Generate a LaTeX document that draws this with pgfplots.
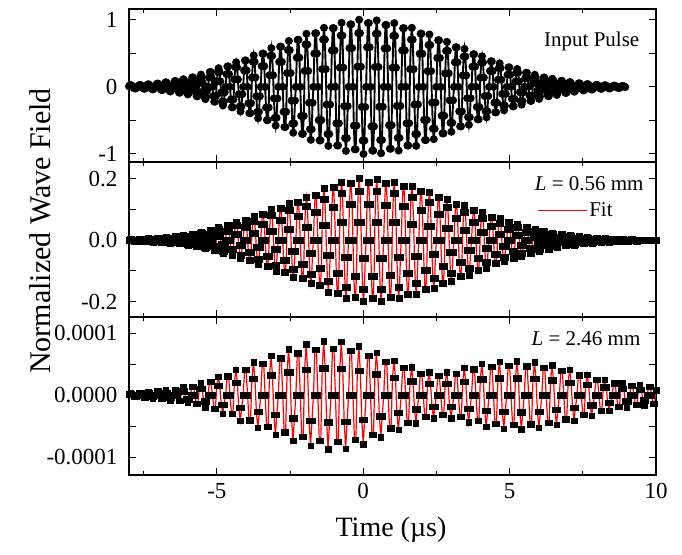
\documentclass[border=0pt]{standalone}
\usepackage{fontspec}
\setmainfont{Liberation Serif}
\usepackage{pgfplots}
\usepackage{pgfplotstable}
\pgfplotsset{compat=1.18}

% x = time (us); a = input pulse; b = L=0.56 mm
\pgfplotstableread{
x a b
-8.00 0.008 0.0009
-7.97 0.02 0.0024
-7.94 0.025 0.003
-7.91 0.02 0.0024
-7.88 0.008 0.0009
-7.85 -0.008 -0.0009
-7.82 -0.02 -0.0024
-7.79 -0.025 -0.003
-7.76 -0.02 -0.0024
-7.73 -0.008 -0.0009
-7.70 0 0
-7.67 0.017 0.0024
-7.64 0.028 0.0038
-7.61 0.028 0.0038
-7.58 0.017 0.0024
-7.55 0 0
-7.52 -0.017 -0.0024
-7.49 -0.028 -0.0038
-7.46 -0.028 -0.0038
-7.43 -0.017 -0.0024
-7.40 0.012 0.0015
-7.37 0.031 0.004
-7.34 0.039 0.005
-7.31 0.031 0.004
-7.28 0.012 0.0015
-7.25 -0.012 -0.0015
-7.22 -0.031 -0.004
-7.19 -0.039 -0.005
-7.16 -0.031 -0.004
-7.13 -0.012 -0.0015
-7.10 0 0
-7.07 0.03 0.0041
-7.04 0.048 0.0067
-7.01 0.048 0.0067
-6.98 0.03 0.0041
-6.95 0 0
-6.92 -0.03 -0.0041
-6.89 -0.048 -0.0067
-6.86 -0.048 -0.0067
-6.83 -0.03 -0.0041
-6.80 0.021 0.0027
-6.77 0.056 0.0072
-6.74 0.07 0.009
-6.71 0.056 0.0072
-6.68 0.021 0.0027
-6.65 -0.021 -0.0027
-6.62 -0.056 -0.0072
-6.59 -0.07 -0.009
-6.56 -0.056 -0.0072
-6.53 -0.021 -0.0027
-6.50 0 0
-6.47 0.053 0.0071
-6.44 0.086 0.0114
-6.41 0.086 0.0114
-6.38 0.053 0.0071
-6.35 0 0
-6.32 -0.053 -0.0071
-6.29 -0.086 -0.0114
-6.26 -0.086 -0.0114
-6.23 -0.053 -0.0071
-6.20 0.034 0.0048
-6.17 0.091 0.0128
-6.14 0.114 0.016
-6.11 0.091 0.0128
-6.08 0.034 0.0048
-6.05 -0.034 -0.0048
-6.02 -0.091 -0.0128
-5.99 -0.114 -0.016
-5.96 -0.091 -0.0128
-5.93 -0.034 -0.0048
-5.90 0 0
-5.87 0.087 0.0124
-5.84 0.14 0.02
-5.81 0.14 0.02
-5.78 0.087 0.0124
-5.75 0 0
-5.72 -0.087 -0.0124
-5.69 -0.14 -0.02
-5.66 -0.14 -0.02
-5.63 -0.087 -0.0124
-5.60 0.055 0.0081
-5.57 0.146 0.0216
-5.54 0.183 0.027
-5.51 0.146 0.0216
-5.48 0.055 0.0081
-5.45 -0.055 -0.0081
-5.42 -0.146 -0.0216
-5.39 -0.183 -0.027
-5.36 -0.146 -0.0216
-5.33 -0.055 -0.0081
-5.30 0 0
-5.27 0.137 0.0207
-5.24 0.22 0.0333
-5.21 0.22 0.0333
-5.18 0.137 0.0207
-5.15 0 0
-5.12 -0.137 -0.0207
-5.09 -0.22 -0.0333
-5.06 -0.22 -0.0333
-5.03 -0.137 -0.0207
-5.00 0.083 0.0129
-4.97 0.222 0.0344
-4.94 0.278 0.043
-4.91 0.222 0.0344
-4.88 0.083 0.0129
-4.85 -0.083 -0.0129
-4.82 -0.222 -0.0344
-4.79 -0.278 -0.043
-4.76 -0.222 -0.0344
-4.73 -0.083 -0.0129
-4.70 0 0
-4.67 0.189 0.0301
-4.64 0.304 0.0485
-4.61 0.304 0.0485
-4.58 0.189 0.0301
-4.55 0 0
-4.52 -0.189 -0.0301
-4.49 -0.304 -0.0485
-4.46 -0.304 -0.0485
-4.43 -0.189 -0.0301
-4.40 0.11 0.018
-4.37 0.293 0.048
-4.34 0.366 0.06
-4.31 0.293 0.048
-4.28 0.11 0.018
-4.25 -0.11 -0.018
-4.22 -0.293 -0.048
-4.19 -0.366 -0.06
-4.16 -0.293 -0.048
-4.13 -0.11 -0.018
-4.10 0 0
-4.07 0.244 0.0407
-4.04 0.393 0.0656
-4.01 0.393 0.0656
-3.98 0.244 0.0407
-3.95 0 0
-3.92 -0.244 -0.0407
-3.89 -0.393 -0.0656
-3.86 -0.393 -0.0656
-3.83 -0.244 -0.0407
-3.80 0.14 0.0237
-3.77 0.374 0.0632
-3.74 0.468 0.079
-3.71 0.374 0.0632
-3.68 0.14 0.0237
-3.65 -0.14 -0.0237
-3.62 -0.374 -0.0632
-3.59 -0.468 -0.079
-3.56 -0.374 -0.0632
-3.53 -0.14 -0.0237
-3.50 0 0
-3.47 0.308 0.0525
-3.44 0.496 0.0846
-3.41 0.496 0.0846
-3.38 0.308 0.0525
-3.35 0 0
-3.32 -0.308 -0.0525
-3.29 -0.496 -0.0846
-3.26 -0.496 -0.0846
-3.23 -0.308 -0.0525
-3.20 0.173 0.03
-3.17 0.462 0.08
-3.14 0.577 0.1
-3.11 0.462 0.08
-3.08 0.173 0.03
-3.05 -0.173 -0.03
-3.02 -0.462 -0.08
-2.99 -0.577 -0.1
-2.96 -0.462 -0.08
-2.93 -0.173 -0.03
-2.90 0 0
-2.87 0.372 0.0649
-2.84 0.599 0.1045
-2.81 0.599 0.1045
-2.78 0.372 0.0649
-2.75 0 0
-2.72 -0.372 -0.0649
-2.69 -0.599 -0.1045
-2.66 -0.599 -0.1045
-2.63 -0.372 -0.0649
-2.60 0.205 0.036
-2.57 0.547 0.096
-2.54 0.684 0.12
-2.51 0.547 0.096
-2.48 0.205 0.036
-2.45 -0.205 -0.036
-2.42 -0.547 -0.096
-2.39 -0.684 -0.12
-2.36 -0.547 -0.096
-2.33 -0.205 -0.036
-2.30 0 0
-2.27 0.435 0.0767
-2.24 0.701 0.1235
-2.21 0.701 0.1235
-2.18 0.435 0.0767
-2.15 0 0
-2.12 -0.435 -0.0767
-2.09 -0.701 -0.1235
-2.06 -0.701 -0.1235
-2.03 -0.435 -0.0767
-2.00 0.237 0.042
-1.97 0.632 0.112
-1.94 0.79 0.14
-1.91 0.632 0.112
-1.88 0.237 0.042
-1.85 -0.237 -0.042
-1.82 -0.632 -0.112
-1.79 -0.79 -0.14
-1.76 -0.632 -0.112
-1.73 -0.237 -0.042
-1.70 0 0
-1.67 0.496 0.0915
-1.64 0.798 0.147
-1.61 0.798 0.147
-1.58 0.496 0.0915
-1.55 0 0
-1.52 -0.496 -0.0915
-1.49 -0.798 -0.147
-1.46 -0.798 -0.147
-1.43 -0.496 -0.0915
-1.40 0.264 0.05
-1.37 0.704 0.134
-1.34 0.88 0.168
-1.31 0.704 0.134
-1.28 0.264 0.05
-1.25 -0.264 -0.05
-1.22 -0.704 -0.134
-1.19 -0.88 -0.168
-1.16 -0.704 -0.134
-1.13 -0.264 -0.05
-1.10 0 0
-1.07 0.543 0.106
-1.04 0.874 0.171
-1.01 0.874 0.171
-0.98 0.543 0.106
-0.95 0 0
-0.92 -0.543 -0.106
-0.89 -0.874 -0.171
-0.86 -0.874 -0.171
-0.83 -0.543 -0.106
-0.80 0.287 0.057
-0.77 0.764 0.152
-0.74 0.955 0.19
-0.71 0.764 0.152
-0.68 0.287 0.057
-0.65 -0.287 -0.057
-0.62 -0.764 -0.152
-0.59 -0.955 -0.19
-0.56 -0.764 -0.152
-0.53 -0.287 -0.057
-0.50 0 0
-0.47 0.578 0.116
-0.44 0.931 0.186
-0.41 0.931 0.186
-0.38 0.578 0.116
-0.35 0 0
-0.32 -0.578 -0.116
-0.29 -0.931 -0.186
-0.26 -0.931 -0.186
-0.23 -0.578 -0.116
-0.20 0.3 0.06
-0.17 0.8 0.16
-0.14 1 0.2
-0.11 0.8 0.16
-0.08 0.3 0.06
-0.05 -0.3 -0.06
-0.02 -0.8 -0.16
0.01 -1 -0.2
0.04 -0.8 -0.16
0.07 -0.3 -0.06
0.10 0 0
0.13 0.59 0.118
0.16 0.95 0.19
0.19 0.95 0.19
0.22 0.59 0.118
0.25 0 0
0.28 -0.59 -0.118
0.31 -0.95 -0.19
0.34 -0.95 -0.19
0.37 -0.59 -0.118
0.40 0.297 0.059
0.43 0.792 0.158
0.46 0.99 0.198
0.49 0.792 0.158
0.52 0.297 0.059
0.55 -0.297 -0.059
0.58 -0.792 -0.158
0.61 -0.99 -0.198
0.64 -0.792 -0.158
0.67 -0.297 -0.059
0.70 0 0
0.73 0.572 0.114
0.76 0.922 0.184
0.79 0.922 0.184
0.82 0.572 0.114
0.85 0 0
0.88 -0.572 -0.114
0.91 -0.922 -0.184
0.94 -0.922 -0.184
0.97 -0.572 -0.114
1.00 0.285 0.057
1.03 0.76 0.152
1.06 0.95 0.19
1.09 0.76 0.152
1.12 0.285 0.057
1.15 -0.285 -0.057
1.18 -0.76 -0.152
1.21 -0.95 -0.19
1.24 -0.76 -0.152
1.27 -0.285 -0.057
1.30 0 0
1.33 0.543 0.109
1.36 0.874 0.175
1.39 0.874 0.175
1.42 0.543 0.109
1.45 0 0
1.48 -0.543 -0.109
1.51 -0.874 -0.175
1.54 -0.874 -0.175
1.57 -0.543 -0.109
1.60 0.264 0.053
1.63 0.704 0.141
1.66 0.88 0.176
1.69 0.704 0.141
1.72 0.264 0.053
1.75 -0.264 -0.053
1.78 -0.704 -0.141
1.81 -0.88 -0.176
1.84 -0.704 -0.141
1.87 -0.264 -0.053
1.90 0 0
1.93 0.493 0.099
1.96 0.793 0.159
1.99 0.793 0.159
2.02 0.493 0.099
2.05 0 0
2.08 -0.493 -0.099
2.11 -0.793 -0.159
2.14 -0.793 -0.159
2.17 -0.493 -0.099
2.20 0.234 0.047
2.23 0.624 0.125
2.26 0.78 0.156
2.29 0.624 0.125
2.32 0.234 0.047
2.35 -0.234 -0.047
2.38 -0.624 -0.125
2.41 -0.78 -0.156
2.44 -0.624 -0.125
2.47 -0.234 -0.047
2.50 0 0
2.53 0.431 0.086
2.56 0.694 0.139
2.59 0.694 0.139
2.62 0.431 0.086
2.65 0 0
2.68 -0.431 -0.086
2.71 -0.694 -0.139
2.74 -0.694 -0.139
2.77 -0.431 -0.086
2.80 0.201 0.04
2.83 0.536 0.107
2.86 0.67 0.134
2.89 0.536 0.107
2.92 0.201 0.04
2.95 -0.201 -0.04
2.98 -0.536 -0.107
3.01 -0.67 -0.134
3.04 -0.536 -0.107
3.07 -0.201 -0.04
3.10 0 0
3.13 0.366 0.073
3.16 0.589 0.118
3.19 0.589 0.118
3.22 0.366 0.073
3.25 0 0
3.28 -0.366 -0.073
3.31 -0.589 -0.118
3.34 -0.589 -0.118
3.37 -0.366 -0.073
3.40 0.17 0.034
3.43 0.452 0.09
3.46 0.565 0.113
3.49 0.452 0.09
3.52 0.17 0.034
3.55 -0.17 -0.034
3.58 -0.452 -0.09
3.61 -0.565 -0.113
3.64 -0.452 -0.09
3.67 -0.17 -0.034
3.70 0 0
3.73 0.301 0.06
3.76 0.485 0.097
3.79 0.485 0.097
3.82 0.301 0.06
3.85 0 0
3.88 -0.301 -0.06
3.91 -0.485 -0.097
3.94 -0.485 -0.097
3.97 -0.301 -0.06
4.00 0.137 0.027
4.03 0.364 0.073
4.06 0.455 0.091
4.09 0.364 0.073
4.12 0.137 0.027
4.15 -0.137 -0.027
4.18 -0.364 -0.073
4.21 -0.455 -0.091
4.24 -0.364 -0.073
4.27 -0.137 -0.027
4.30 0 0
4.33 0.236 0.047
4.36 0.38 0.076
4.39 0.38 0.076
4.42 0.236 0.047
4.45 0 0
4.48 -0.236 -0.047
4.51 -0.38 -0.076
4.54 -0.38 -0.076
4.57 -0.236 -0.047
4.60 0.105 0.021
4.63 0.28 0.056
4.66 0.35 0.07
4.69 0.28 0.056
4.72 0.105 0.021
4.75 -0.105 -0.021
4.78 -0.28 -0.056
4.81 -0.35 -0.07
4.84 -0.28 -0.056
4.87 -0.105 -0.021
4.90 0 0
4.93 0.18 0.036
4.96 0.29 0.058
4.99 0.29 0.058
5.02 0.18 0.036
5.05 0 0
5.08 -0.18 -0.036
5.11 -0.29 -0.058
5.14 -0.29 -0.058
5.17 -0.18 -0.036
5.20 0.08 0.016
5.23 0.212 0.042
5.26 0.265 0.053
5.29 0.212 0.042
5.32 0.08 0.016
5.35 -0.08 -0.016
5.38 -0.212 -0.042
5.41 -0.265 -0.053
5.44 -0.212 -0.042
5.47 -0.08 -0.016
5.50 0 0
5.53 0.13 0.027
5.56 0.209 0.043
5.59 0.209 0.043
5.62 0.13 0.027
5.65 0 0
5.68 -0.13 -0.027
5.71 -0.209 -0.043
5.74 -0.209 -0.043
5.77 -0.13 -0.027
5.80 0.054 0.011
5.83 0.144 0.03
5.86 0.18 0.037
5.89 0.144 0.03
5.92 0.054 0.011
5.95 -0.054 -0.011
5.98 -0.144 -0.03
6.01 -0.18 -0.037
6.04 -0.144 -0.03
6.07 -0.054 -0.011
6.10 0 0
6.13 0.086 0.018
6.16 0.138 0.029
6.19 0.138 0.029
6.22 0.086 0.018
6.25 0 0
6.28 -0.086 -0.018
6.31 -0.138 -0.029
6.34 -0.138 -0.029
6.37 -0.086 -0.018
6.40 0.036 0.0072
6.43 0.096 0.019
6.46 0.12 0.024
6.49 0.096 0.019
6.52 0.036 0.0072
6.55 -0.036 -0.0072
6.58 -0.096 -0.019
6.61 -0.12 -0.024
6.64 -0.096 -0.019
6.67 -0.036 -0.0072
6.70 0 0
6.73 0.056 0.011
6.76 0.09 0.018
6.79 0.09 0.018
6.82 0.056 0.011
6.85 0 0
6.88 -0.056 -0.011
6.91 -0.09 -0.018
6.94 -0.09 -0.018
6.97 -0.056 -0.011
7.00 0.022 0.0045
7.03 0.058 0.012
7.06 0.073 0.015
7.09 0.058 0.012
7.12 0.022 0.0045
7.15 -0.022 -0.0045
7.18 -0.058 -0.012
7.21 -0.073 -0.015
7.24 -0.058 -0.012
7.27 -0.022 -0.0045
7.30 0 0
7.33 0.032 0.0071
7.36 0.052 0.0114
7.39 0.052 0.0114
7.42 0.032 0.0071
7.45 0 0
7.48 -0.032 -0.0071
7.51 -0.052 -0.0114
7.54 -0.052 -0.0114
7.57 -0.032 -0.0071
7.60 0.013 0.0027
7.63 0.034 0.0072
7.66 0.042 0.009
7.69 0.034 0.0072
7.72 0.013 0.0027
7.75 -0.013 -0.0027
7.78 -0.034 -0.0072
7.81 -0.042 -0.009
7.84 -0.034 -0.0072
7.87 -0.013 -0.0027
7.90 0 0
7.93 0.018 0.0041
7.96 0.029 0.0067
7.99 0.029 0.0067
8.02 0.018 0.0041
8.05 0 0
8.08 -0.018 -0.0041
8.11 -0.029 -0.0067
8.14 -0.029 -0.0067
8.17 -0.018 -0.0041
8.20 0.007 0.0015
8.23 0.019 0.004
8.26 0.024 0.005
8.29 0.019 0.004
8.32 0.007 0.0015
8.35 -0.007 -0.0015
8.38 -0.019 -0.004
8.41 -0.024 -0.005
8.44 -0.019 -0.004
8.47 -0.007 -0.0015
8.50 0 0
8.53 0.011 0.0024
8.56 0.017 0.0038
8.59 0.017 0.0038
8.62 0.011 0.0024
8.65 0 0
8.68 -0.011 -0.0024
8.71 -0.017 -0.0038
8.74 -0.017 -0.0038
8.77 -0.011 -0.0024
8.80 0.004 0.0009
8.83 0.01 0.0024
8.86 0.012 0.003
8.89 0.01 0.0024
8.92 0.004 0.0009
8.95 -0.004 -0.0009
8.98 nan -0.0024
9.01 nan -0.003
9.04 nan -0.0024
9.07 nan -0.0009
9.10 nan 0
9.13 nan 0.0012
9.16 nan 0.0019
9.19 nan 0.0019
9.22 nan 0.0012
9.25 nan 0
9.28 nan -0.0012
9.31 nan -0.0019
9.34 nan -0.0019
9.37 nan -0.0012
9.40 nan 0.0005
9.43 nan 0.0012
9.46 nan 0.0015
9.49 nan 0.0012
9.52 nan 0.0005
9.55 nan -0.0005
9.58 nan -0.0012
9.61 nan -0.0015
9.64 nan -0.0012
9.67 nan -0.0005
9.70 nan 0
9.73 nan 0.0006
9.76 nan 0.001
9.79 nan 0.001
9.82 nan 0.0006
9.85 nan 0
9.88 nan -0.0006
9.91 nan -0.001
9.94 nan -0.001
9.97 nan -0.0006
10.00 nan 0.0003
}\pulse

% x = time (us); c = L=2.46 mm
\pgfplotstableread{
x c
-8.00 0.015e-4
-7.95 0.03e-4
-7.90 0.015e-4
-7.85 -0.015e-4
-7.80 -0.03e-4
-7.75 -0.015e-4
-7.70 0
-7.65 0.035e-4
-7.60 0.035e-4
-7.55 0
-7.50 -0.035e-4
-7.45 -0.035e-4
-7.40 0.028e-4
-7.35 0.055e-4
-7.30 0.028e-4
-7.25 -0.028e-4
-7.20 -0.055e-4
-7.15 -0.028e-4
-7.10 0
-7.05 0.061e-4
-7.00 0.061e-4
-6.95 0
-6.90 -0.061e-4
-6.85 -0.061e-4
-6.80 0.043e-4
-6.75 0.085e-4
-6.70 0.043e-4
-6.65 -0.043e-4
-6.60 -0.085e-4
-6.55 -0.043e-4
-6.50 0
-6.45 0.087e-4
-6.40 0.087e-4
-6.35 0
-6.30 -0.087e-4
-6.25 -0.087e-4
-6.20 0.063e-4
-6.15 0.125e-4
-6.10 0.063e-4
-6.05 -0.063e-4
-6.00 -0.125e-4
-5.95 -0.063e-4
-5.90 0
-5.85 0.139e-4
-5.80 0.139e-4
-5.75 0
-5.70 -0.139e-4
-5.65 -0.139e-4
-5.60 0.1e-4
-5.55 0.2e-4
-5.50 0.1e-4
-5.45 -0.1e-4
-5.40 -0.2e-4
-5.35 -0.1e-4
-5.30 0
-5.25 0.217e-4
-5.20 0.217e-4
-5.15 0
-5.10 -0.217e-4
-5.05 -0.217e-4
-5.00 0.15e-4
-4.95 0.3e-4
-4.90 0.15e-4
-4.85 -0.15e-4
-4.80 -0.3e-4
-4.75 -0.15e-4
-4.70 0
-4.65 0.303e-4
-4.60 0.303e-4
-4.55 0
-4.50 -0.303e-4
-4.45 -0.303e-4
-4.40 0.205e-4
-4.35 0.41e-4
-4.30 0.205e-4
-4.25 -0.205e-4
-4.20 -0.41e-4
-4.15 -0.205e-4
-4.10 0
-4.05 0.407e-4
-4.00 0.407e-4
-3.95 0
-3.90 -0.407e-4
-3.85 -0.407e-4
-3.80 0.265e-4
-3.75 0.53e-4
-3.70 0.265e-4
-3.65 -0.265e-4
-3.60 -0.53e-4
-3.55 -0.265e-4
-3.50 0
-3.45 0.511e-4
-3.40 0.511e-4
-3.35 0
-3.30 -0.511e-4
-3.25 -0.511e-4
-3.20 0.32e-4
-3.15 0.64e-4
-3.10 0.32e-4
-3.05 -0.32e-4
-3.00 -0.64e-4
-2.95 -0.32e-4
-2.90 0
-2.85 0.598e-4
-2.80 0.598e-4
-2.75 0
-2.70 -0.598e-4
-2.65 -0.598e-4
-2.60 0.37e-4
-2.55 0.74e-4
-2.50 0.37e-4
-2.45 -0.37e-4
-2.40 -0.74e-4
-2.35 -0.37e-4
-2.30 0
-2.25 0.675e-4
-2.20 0.675e-4
-2.15 0
-2.10 -0.675e-4
-2.05 -0.675e-4
-2.00 0.41e-4
-1.95 0.82e-4
-1.90 0.41e-4
-1.85 -0.41e-4
-1.80 -0.82e-4
-1.75 -0.41e-4
-1.70 0
-1.65 0.736e-4
-1.60 0.736e-4
-1.55 0
-1.50 -0.736e-4
-1.45 -0.736e-4
-1.40 0.435e-4
-1.35 0.87e-4
-1.30 0.435e-4
-1.25 -0.435e-4
-1.20 -0.87e-4
-1.15 -0.435e-4
-1.10 0
-1.05 0.753e-4
-1.00 0.753e-4
-0.95 0
-0.90 -0.753e-4
-0.85 -0.753e-4
-0.80 0.43e-4
-0.75 0.86e-4
-0.70 0.43e-4
-0.65 -0.43e-4
-0.60 -0.86e-4
-0.55 -0.43e-4
-0.50 0
-0.45 0.719e-4
-0.40 0.719e-4
-0.35 0
-0.30 -0.719e-4
-0.25 -0.719e-4
-0.20 0.395e-4
-0.15 0.79e-4
-0.10 0.395e-4
-0.05 -0.395e-4
0.00 -0.79e-4
0.05 -0.395e-4
0.10 0
0.15 0.641e-4
0.20 0.641e-4
0.25 0
0.30 -0.641e-4
0.35 -0.641e-4
0.40 0.34e-4
0.45 0.68e-4
0.50 0.34e-4
0.55 -0.34e-4
0.60 -0.68e-4
0.65 -0.34e-4
0.70 0
0.75 0.537e-4
0.80 0.537e-4
0.85 0
0.90 -0.537e-4
0.95 -0.537e-4
1.00 0.28e-4
1.05 0.56e-4
1.10 0.28e-4
1.15 -0.28e-4
1.20 -0.56e-4
1.25 -0.28e-4
1.30 0
1.35 0.442e-4
1.40 0.442e-4
1.45 0
1.50 -0.442e-4
1.55 -0.442e-4
1.60 0.225e-4
1.65 0.45e-4
1.70 0.225e-4
1.75 -0.225e-4
1.80 -0.45e-4
1.85 -0.225e-4
1.90 0
1.95 0.346e-4
2.00 0.346e-4
2.05 0
2.10 -0.346e-4
2.15 -0.346e-4
2.20 0.185e-4
2.25 0.37e-4
2.30 0.185e-4
2.35 -0.185e-4
2.40 -0.37e-4
2.45 -0.185e-4
2.50 0
2.55 0.312e-4
2.60 0.312e-4
2.65 0
2.70 -0.312e-4
2.75 -0.312e-4
2.80 0.185e-4
2.85 0.37e-4
2.90 0.185e-4
2.95 -0.185e-4
3.00 -0.37e-4
3.05 -0.185e-4
3.10 0
3.15 0.346e-4
3.20 0.346e-4
3.25 0
3.30 -0.346e-4
3.35 -0.346e-4
3.40 0.22e-4
3.45 0.44e-4
3.50 0.22e-4
3.55 -0.22e-4
3.60 -0.44e-4
3.65 -0.22e-4
3.70 0
3.75 0.416e-4
3.80 0.416e-4
3.85 0
3.90 -0.416e-4
3.95 -0.416e-4
4.00 0.255e-4
4.05 0.51e-4
4.10 0.255e-4
4.15 -0.255e-4
4.20 -0.51e-4
4.25 -0.255e-4
4.30 0
4.35 0.459e-4
4.40 0.459e-4
4.45 0
4.50 -0.459e-4
4.55 -0.459e-4
4.60 0.27e-4
4.65 0.54e-4
4.70 0.27e-4
4.75 -0.27e-4
4.80 -0.54e-4
4.85 -0.27e-4
4.90 0
4.95 0.476e-4
5.00 0.476e-4
5.05 0
5.10 -0.476e-4
5.15 -0.476e-4
5.20 0.275e-4
5.25 0.55e-4
5.30 0.275e-4
5.35 -0.275e-4
5.40 -0.55e-4
5.45 -0.275e-4
5.50 0
5.55 0.468e-4
5.60 0.468e-4
5.65 0
5.70 -0.468e-4
5.75 -0.468e-4
5.80 0.265e-4
5.85 0.53e-4
5.90 0.265e-4
5.95 -0.265e-4
6.00 -0.53e-4
6.05 -0.265e-4
6.10 0
6.15 0.442e-4
6.20 0.442e-4
6.25 0
6.30 -0.442e-4
6.35 -0.442e-4
6.40 0.24e-4
6.45 0.48e-4
6.50 0.24e-4
6.55 -0.24e-4
6.60 -0.48e-4
6.65 -0.24e-4
6.70 0
6.75 0.39e-4
6.80 0.39e-4
6.85 0
6.90 -0.39e-4
6.95 -0.39e-4
7.00 0.205e-4
7.05 0.41e-4
7.10 0.205e-4
7.15 -0.205e-4
7.20 -0.41e-4
7.25 -0.205e-4
7.30 0
7.35 0.32e-4
7.40 0.32e-4
7.45 0
7.50 -0.32e-4
7.55 -0.32e-4
7.60 0.165e-4
7.65 0.33e-4
7.70 0.165e-4
7.75 -0.165e-4
7.80 -0.33e-4
7.85 -0.165e-4
7.90 0
7.95 0.251e-4
8.00 0.251e-4
8.05 0
8.10 -0.251e-4
8.15 -0.251e-4
8.20 0.125e-4
8.25 0.25e-4
8.30 0.125e-4
8.35 -0.125e-4
8.40 -0.25e-4
8.45 -0.125e-4
8.50 0
8.55 0.191e-4
8.60 0.191e-4
8.65 0
8.70 -0.191e-4
8.75 -0.191e-4
8.80 0.1e-4
8.85 0.2e-4
8.90 0.1e-4
8.95 -0.1e-4
9.00 -0.2e-4
9.05 -0.1e-4
9.10 0
9.15 0.156e-4
9.20 0.156e-4
9.25 0
9.30 -0.156e-4
9.35 -0.156e-4
9.40 0.085e-4
9.45 0.17e-4
9.50 0.085e-4
9.55 -0.085e-4
9.60 -0.17e-4
9.65 -0.085e-4
9.70 0
9.75 0.139e-4
9.80 0.139e-4
9.85 0
9.90 -0.139e-4
9.95 -0.139e-4
10.00 0.08e-4
}\far

\newcommand\tickfont{\fontsize{23}{26}\selectfont}
\newcommand\annfont{\fontsize{21}{24}\selectfont}
\newcommand\labfont{\fontsize{28}{32}\selectfont}

\pgfplotsset{
  panel/.style={
    scale only axis, width=527pt, anchor=south west,
    xmin=-8, xmax=10,
    axis line style={line width=1.3pt},
    tick style={black, line width=1pt},
    tick align=inside, xtick pos=both, ytick pos=both,
    major tick length=7pt, minor tick length=4pt,
    xtick={-5,0,5,10}, minor xtick={-7.5,-2.5,2.5,7.5},
    xticklabels={},
    tick label style={font=\tickfont},
    yticklabel style={xshift=-8pt},
    xticklabel style={yshift=-5pt},
    scaled y ticks=false,
  },
  dots/.style={only marks, mark=square*, mark size=3pt,
    mark options={fill=black, draw=black, line width=0.3pt}},
  fit/.style={red, line width=1.2pt},
}

\begin{document}
\begin{tikzpicture}
\useasboundingbox (-129pt,-79pt) rectangle (553pt,475pt);

% input pulse
\begin{axis}[panel, at={(0pt,313pt)}, height=153pt,
  ymin=-1.12, ymax=1.16,
  ytick={-1,-0.5,0,0.5,1}, yticklabels={-1,,0,,1}]
  \addplot[black, line width=1.9pt, mark=*, mark size=3pt] table[x=x, y=a] {\pulse};
  \node[anchor=east, font=\annfont] at (rel axis cs:0.975,0.79) {Input Pulse};
\end{axis}

% L = 0.56 mm
\begin{axis}[panel, at={(0pt,158pt)}, height=155pt,
  ymin=-0.25, ymax=0.254,
  ytick={-0.2,-0.1,0,0.1,0.2}, yticklabels={-0.2,,0.0,,0.2},
  legend style={at={(rel axis cs:0.774,0.688)}, anchor=west,
    draw=none, fill=none, inner sep=0pt, font=\annfont},
  legend image code/.code={\draw[#1] (0pt,0pt) -- (49pt,0pt);}]
  \addplot[dots, forget plot] table[x=x, y=b] {\pulse};
  \addplot[fit] table[x=x, y=b] {\pulse};
  \addlegendentry{Fit}
  \node[anchor=east, font=\annfont] at (rel axis cs:0.983,0.857) {\textit{L} = 0.56 mm};
\end{axis}

% L = 2.46 mm
\begin{axis}[panel, at={(0pt,0pt)}, height=158pt,
  ymin=-1.29e-4, ymax=1.26e-4,
  ytick={-0.0001,-0.00005,0,0.00005,0.0001},
  yticklabels={-0.0001,,0.0000,,0.0001},
  xticklabels={-5,0,5,10}]
  \addplot[dots, mark size=2.7pt] table[x=x, y=c] {\far};
  \addplot[fit] table[x=x, y=c] {\far};
  \node[anchor=east, font=\annfont] at (rel axis cs:0.977,0.861) {\textit{L} = 2.46 mm};
\end{axis}

\node[rotate=90, font=\fontsize{30}{34}\selectfont] at (-89pt,244pt) {Normalized Wave Field};
\node[font=\labfont] at (262pt,-55pt) {Time (µs)};
\end{tikzpicture}
\end{document}
